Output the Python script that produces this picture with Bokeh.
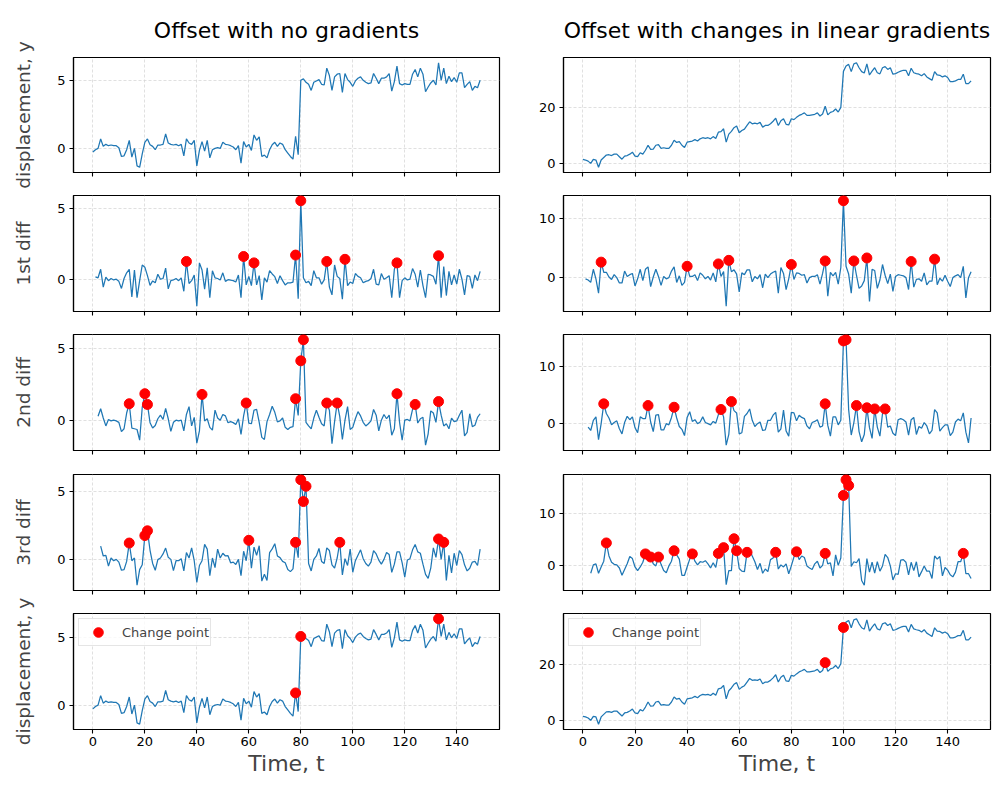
import numpy as np
from bokeh.plotting import figure
from bokeh.layouts import column, row
from bokeh.models import Range1d, FixedTicker, Legend, LegendItem, Title
from bokeh.embed import file_html
from bokeh.resources import INLINE

# ---------------- data ----------------
y_left = [
    -0.27, -0.1, 0.0, 0.7, 0.15, 0.3, 0.2, 0.25, 0.2, 0.2,
    0.05, -0.6, -0.55, -0.1, 0.6, -0.65, 0.0, -1.3, -1.4, -0.4,
    0.45, 0.7, 0.27, 0.15, -0.1, 0.25, 0.25, 0.3, 1.08, 0.4,
    0.3, 0.25, 0.3, 0.2, 0.3, -0.55, 0.7, 0.4, 0.3, 0.6,
    -1.3, -0.15, 0.5, -0.2, 0.6, -0.7, -0.1, 0.0, 0.05, 0.0,
    0.45, 0.3, 0.27, 0.2, 0.1, -0.1, 0.2, -1.1, 0.5, 0.1,
    0.3, -0.15, 1.0, 0.6, 0.85, -0.6, -0.5, -0.7, -0.1, 0.27,
    0.45, 0.15, 0.4, 0.3, -0.1, -0.35, -0.6, -0.8, 0.9, -0.47,
    5.05, 5.15, 4.9, 4.75, 4.3, 4.9, 5.0, 5.1, 4.75, 4.7,
    5.95, 5.4, 4.3, 5.3, 5.5, 5.55, 4.15, 5.55, 5.1, 4.9,
    4.6, 5.0, 5.2, 5.3, 5.05, 4.9, 4.8, 4.85, 5.55, 5.2,
    4.8, 5.2, 5.2, 5.3, 5.55, 4.25, 4.95, 6.1, 4.8, 4.7,
    4.8, 4.75, 4.75, 5.5, 5.85, 5.3, 5.95, 5.5, 4.2, 4.55,
    4.85, 5.05, 4.7, 6.35, 5.05, 5.95, 4.8, 5.35, 4.95, 5.25,
    4.9, 5.6, 5.6, 4.5, 4.75, 4.95, 4.3, 4.6, 4.5, 5.05,
]
y_right = [
    1.4, 1.2, 0.8, 0.0, 1.4, 1.2, -1.4, 1.2, 2.1, 3.0,
    3.1, 2.8, 3.3, 3.3, 2.4, 1.5, 2.6, 2.8, 3.3, 4.0,
    2.6, 2.4, 3.8, 3.3, 4.7, 6.5, 5.0, 5.1, 6.5, 6.7,
    5.4, 5.6, 5.4, 5.4, 6.5, 8.3, 7.5, 7.8, 6.5, 5.7,
    7.6, 7.8, 8.0, 8.5, 8.0, 8.8, 9.2, 9.0, 9.2, 8.8,
    9.6, 8.9, 11.2, 11.4, 12.4, 7.6, 10.5, 11.5, 12.8, 13.4,
    11.0, 11.8, 12.3, 13.6, 14.9, 14.2, 14.4, 14.2, 14.7, 13.0,
    13.6, 13.6, 14.2, 15.1, 16.2, 13.6, 15.3, 16.0, 14.0, 13.8,
    16.0, 15.7, 16.5, 17.2, 17.6, 18.1, 17.2, 17.2, 17.4, 17.6,
    18.1, 17.0, 17.7, 20.5, 17.4, 18.3, 18.6, 19.5, 18.4, 20.1,
    33.0, 34.9, 35.5, 32.9, 35.7, 36.1, 34.3, 32.9, 32.4, 35.7,
    31.7, 33.1, 34.3, 32.5, 32.1, 34.3, 34.7, 33.7, 34.3, 32.0,
    32.2, 32.7, 33.1, 33.4, 33.4, 31.4, 34.1, 32.5, 32.2, 32.0,
    31.4, 32.2, 31.0, 30.4, 29.8, 32.9, 31.7, 31.6, 31.0, 31.4,
    30.8, 29.3, 29.3, 29.6, 30.1, 30.1, 32.0, 28.6, 28.6, 29.6,
]

# change points (time indices) for each panel
cp_left_d1 = [36, 58, 62, 78, 80, 90, 97, 117, 133]
cp_left_d2 = [14, 20, 21, 42, 59, 78, 80, 81, 90, 94, 117, 124, 133]
cp_left_d3 = [14, 20, 21, 60, 78, 80, 81, 82, 95, 133, 135]
cp_left_y = [78, 80, 133]
cp_right_d1 = [7, 40, 52, 56, 80, 93, 100, 104, 109, 126, 135]
cp_right_d2 = [8, 25, 35, 53, 57, 93, 100, 101, 105, 109, 112, 116]
cp_right_d3 = [9, 24, 26, 29, 35, 42, 52, 54, 58, 59, 63, 74, 82, 93, 100, 101, 102, 146]
cp_right_y = [93, 100]

col_titles = ["Offset with no gradients", "Offset with changes in linear gradients"]
row_labels = ["displacement, y", "1st diff", "2nd diff", "3rd diff", "displacement, y"]
x_label = "Time, t"
legend_label = "Change point"
x_ticks = [0, 20, 40, 60, 80, 100, 120, 140]
y_ticks_left = [0, 5]
y_ticks_right_disp = [0, 20]
y_ticks_right_diff = [0, 10]

# ---------------- layout / style ----------------
FONT = "DejaVu Sans"
BLUE = "#1f77b4"
COLS = [dict(width=519, left=73, right=20), dict(width=473, left=44, right=2)]
ROWS = [dict(height=193, top=56, bottom=21), dict(height=139, top=2, bottom=21),
        dict(height=139, top=2, bottom=21), dict(height=124, top=3, bottom=5),
        dict(height=188, top=18, bottom=54)]


def lagdiff(y, k):
    y = np.asarray(y, dtype=float)
    if k == 0:
        return np.arange(len(y)), y
    return np.arange(k, len(y)), y[k:] - y[:-k]


def make_panel(r, c, series, k, cps, yticks):
    t, v = lagdiff(series, k)
    R, C = ROWS[r], COLS[c]
    lo, hi = float(v.min()), float(v.max())
    pad = 0.05 * (hi - lo)
    n = len(series) - 1
    p = figure(width=C["width"], height=R["height"],
               x_range=Range1d(-0.05 * n, n * 1.05), y_range=Range1d(lo - pad, hi + pad),
               output_backend="svg", toolbar_location=None,
               min_border_left=C["left"], min_border_right=C["right"],
               min_border_top=R["top"], min_border_bottom=R["bottom"])
    p.background_fill_color = "white"
    p.border_fill_color = "white"
    p.outline_line_color = "black"
    p.outline_line_width = 1.2
    for ax in (p.xaxis[0], p.yaxis[0]):
        ax.axis_line_color = "black"
        ax.axis_line_width = 1.2
        ax.major_tick_line_color = "black"
        ax.major_tick_line_width = 1.1
        ax.major_tick_out = 4
        ax.major_tick_in = 0
        ax.minor_tick_line_color = None
        ax.major_label_text_font = FONT
        ax.major_label_text_font_size = "13px"
        ax.major_label_text_color = "black"
        ax.major_label_standoff = 4
    p.xaxis.ticker = FixedTicker(ticks=x_ticks)
    p.yaxis.ticker = FixedTicker(ticks=yticks)
    p.grid.grid_line_color = "#d2d2d2"
    p.grid.grid_line_dash = "3 2"
    p.grid.grid_line_width = 0.7

    if r < 4:
        p.xaxis.major_label_text_color = None
        p.xaxis.major_label_standoff = 0
    else:
        p.xaxis.major_label_standoff = 3
        p.xaxis.axis_label = x_label
        p.xaxis.axis_label_text_font = FONT
        p.xaxis.axis_label_text_font_size = "22px"
        p.xaxis.axis_label_text_font_style = "normal"
        p.xaxis.axis_label_standoff = 2

    if c == 0:
        p.yaxis.axis_label = row_labels[r]
        p.yaxis.axis_label_text_font = FONT
        p.yaxis.axis_label_text_font_size = "18.5px"
        p.yaxis.axis_label_text_font_style = "normal"
        p.yaxis.axis_label_standoff = 20

    if r == 0:
        ttl = Title(text=col_titles[c], align="center", text_font=FONT,
                    text_font_size="22px", text_font_style="normal",
                    text_color="black", standoff=30)
        p.add_layout(ttl, "above")

    p.line(t, v, line_color=BLUE, line_width=1.25)
    idx = [list(t).index(i) for i in cps]
    sc = p.scatter(t[idx], v[idx], size=10, fill_color="red", line_color="red")

    if r == 4:
        leg = Legend(items=[LegendItem(label=legend_label, renderers=[sc])],
                     location="top_left")
        leg.label_text_font = FONT
        leg.label_text_font_size = "13px"
        leg.border_line_color = "#cccccc"
        leg.border_line_width = 1
        leg.background_fill_alpha = 0.8
        leg.margin = 5
        leg.padding = 1
        leg.spacing = 0
        leg.glyph_width = 36
        leg.glyph_height = 24
        leg.label_height = 20
        leg.label_standoff = 6
        p.add_layout(leg)
    return p


panels_spec = [
    [(y_left, 0, [], y_ticks_left), (y_right, 0, [], y_ticks_right_disp)],
    [(y_left, 1, cp_left_d1, y_ticks_left), (y_right, 1, cp_right_d1, y_ticks_right_diff)],
    [(y_left, 2, cp_left_d2, y_ticks_left), (y_right, 2, cp_right_d2, y_ticks_right_diff)],
    [(y_left, 3, cp_left_d3, y_ticks_left), (y_right, 3, cp_right_d3, y_ticks_right_diff)],
    [(y_left, 0, cp_left_y, y_ticks_left), (y_right, 0, cp_right_y, y_ticks_right_disp)],
]

rows = []
for r, spec in enumerate(panels_spec):
    figs = [make_panel(r, c, s, k, cps, yt) for c, (s, k, cps, yt) in enumerate(spec)]
    rows.append(row(*figs))
layout = column(*rows)

open("out.html", "w").write(file_html(layout, INLINE))
